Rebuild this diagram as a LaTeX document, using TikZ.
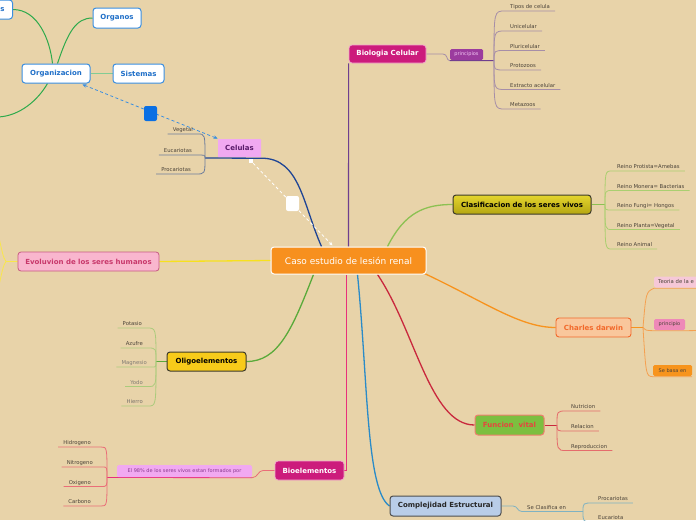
\documentclass[tikz,border=0pt]{standalone}
\usepackage{fontspec}
\setmainfont{DejaVu Sans}
\usetikzlibrary{arrows.meta,calc,backgrounds}
\definecolor{bgc}{HTML}{E8D3A9}
\definecolor{corange}{HTML}{F7901E}
\definecolor{magen}{HTML}{CC1B7C}
\definecolor{magbd}{HTML}{F2A6CC}
\definecolor{purp}{HTML}{9B3C9E}
\definecolor{purptxt}{HTML}{F3C6F3}
\definecolor{clasTop}{HTML}{E4D52E}
\definecolor{clasBot}{HTML}{B5A612}
\definecolor{darkbd}{HTML}{3C3A2A}
\definecolor{chfill}{HTML}{F9C79C}
\definecolor{chbd}{HTML}{F2692B}
\definecolor{teofill}{HTML}{F6C8D8}
\definecolor{prinfill}{HTML}{EE88B8}
\definecolor{sebasa}{HTML}{F7941D}
\definecolor{fvfill}{HTML}{7CBF40}
\definecolor{fvbd}{HTML}{EF7F6E}
\definecolor{fvtxt}{HTML}{E5463E}
\definecolor{cxfill}{HTML}{B9CDE8}
\definecolor{cxbd}{HTML}{4E4E4E}
\definecolor{elfill}{HTML}{F1A9F1}
\definecolor{eltxt}{HTML}{8A3A90}
\definecolor{olfill}{HTML}{F7CB1A}
\definecolor{evfill}{HTML}{F9B6CE}
\definecolor{evbd}{HTML}{C75A82}
\definecolor{evtxt}{HTML}{C8386B}
\definecolor{celtxt}{HTML}{5A1A6A}
\definecolor{orgbd}{HTML}{3A8EE0}
\definecolor{orgtxt}{HTML}{1F6FC8}
\definecolor{bsq}{HTML}{0A6FE3}
\definecolor{leaftxt}{HTML}{4A4238}
\definecolor{kBio}{HTML}{6E3F8E}
\definecolor{kCel}{HTML}{1F4595}
\definecolor{kClas}{HTML}{8CC152}
\definecolor{kCh}{HTML}{F7931E}
\definecolor{kFv}{HTML}{C9283D}
\definecolor{kCx}{HTML}{2A8BC8}
\definecolor{kBe}{HTML}{E8307A}
\definecolor{kOl}{HTML}{5AAA3A}
\definecolor{kEv}{HTML}{F7E11E}
\definecolor{kOrg}{HTML}{2EAA4C}
\definecolor{bP}{HTML}{A68EA8}
\definecolor{bG}{HTML}{AACF70}
\definecolor{bR}{HTML}{E56C6C}
\definecolor{bT}{HTML}{7FB2C2}
\definecolor{bB}{HTML}{6C7C9C}
\definecolor{bO}{HTML}{ABCB7C}
\definecolor{bK}{HTML}{EA6E78}
\definecolor{bCh}{HTML}{F5A050}
\begin{document}
\begin{tikzpicture}[x=1pt,y=-1pt,
  box/.style={rectangle, rounded corners=3pt, line width=0.8pt, inner sep=0pt, font=\fontsize{7}{8}\selectfont\bfseries},
  mini/.style={rectangle, rounded corners=1.5pt, inner sep=0pt, font=\fontsize{5}{6}\selectfont},
  leafR/.style={anchor=south west, inner xsep=5pt, inner ysep=1.5pt, text depth=0.8pt, text height=4pt, font=\fontsize{5.3}{6}\selectfont, text=leaftxt},
  leafL/.style={leafR, anchor=south east},
  mainc/.style={line width=1.3pt},
  brn/.style={line width=0.8pt},
  dsh/.style={line width=0.8pt, dash pattern=on 3pt off 2.5pt},
  orgbox/.style={box, fill=white, draw=orgbd, line width=1pt, text=orgtxt},
  sq/.style={rectangle, rounded corners=2pt, minimum width=13pt, minimum height=15pt, inner sep=0pt}
]
\useasboundingbox (0,0) rectangle (696,520);
\clip (0,0) rectangle (696,520);
% ---------- nodes ----------
\node[box, fill=corange, draw=white, line width=1pt, text=white, minimum width=155pt, minimum height=27pt, font=\fontsize{9}{10}\selectfont] (c) at (348.5,260.5) {Caso estudio de lesión renal};
\node[box, fill=magen, draw=magbd, text=white, minimum width=77pt, minimum height=18pt] (bio) at (387.5,54) {Biologia Celular};
\node[mini, fill=purp, text=purptxt, minimum width=33pt, minimum height=11pt] (pri) at (466.5,54.5) {principios};
\node[box, top color=clasTop, bottom color=clasBot, draw=darkbd, line width=1pt, text=black, minimum width=138pt, minimum height=19pt] (clas) at (522,204.5) {Clasificacion de los seres vivos};
\node[box, fill=chfill, draw=chbd, line width=0.9pt, text=chbd, minimum width=75pt, minimum height=19pt] (ch) at (593.5,327.5) {Charles darwin};
\node[mini, fill=teofill, text=leaftxt, anchor=west, minimum height=11pt, text width=60pt, inner xsep=4pt, align=left, font=\fontsize{5.3}{6}\selectfont] (teo) at (654,282) {Teoria de la e};
\node[mini, fill=prinfill, text=leaftxt, minimum width=31pt, minimum height=11pt] (prin) at (669.5,324.5) {principio};
\node[mini, fill=sebasa, text=leaftxt, minimum width=39pt, minimum height=11pt] (seb) at (672.5,370.5) {Se basa en};
\node[box, fill=fvfill, draw=fvbd, line width=1pt, text=fvtxt, minimum width=69pt, minimum height=20pt] (fv) at (509.5,425) {Funcion\ \ vital};
\node[box, fill=cxfill, draw=cxbd, line width=1pt, text=black!85, minimum width=111pt, minimum height=20pt] (cx) at (445.5,506) {Complejidad Estructural};
\node[box, fill=magen, draw=magbd, text=white, minimum width=69pt, minimum height=19pt] (be) at (309.5,470.5) {Bioelementos};
\node[mini, fill=elfill, text=eltxt, minimum width=135pt, minimum height=12pt] (el) at (184.5,471) {El 98\% de los seres vivos estan formados por};
\node[box, fill=olfill, draw=darkbd, line width=1pt, text=black, minimum width=79pt, minimum height=19pt] (ol) at (206.5,361.5) {Oligoelementos};
\node[box, fill=evfill, draw=evbd, text=evtxt, minimum width=141pt, minimum height=19pt] (ev) at (88.5,261.5) {Evoluvion de los seres humanos};
\node[box, rounded corners=0.5pt, fill=elfill, text=celtxt, minimum width=43pt, minimum height=18pt] (cel) at (239.5,148) {Celulas};
\node[orgbox, minimum width=68pt, minimum height=19pt] (org) at (56,73.5) {Organizacion};
\node[orgbox, minimum width=48pt, minimum height=20pt] (organos) at (117,18) {Organos};
\node[orgbox, minimum width=51pt, minimum height=19pt] (sis) at (138.5,73.5) {Sistemas};
\node[orgbox, anchor=east, minimum height=19pt, text width=38pt, inner xsep=8pt, align=right] (tej) at (13,9.5) {s};
\node[sq, fill=bsq] (bq) at (150.5,113.5) {};
\node[sq, fill=white] (wq) at (292.5,203.5) {};
\node[rectangle, fill=white, minimum size=4pt, inner sep=0pt] (ws) at (251,161) {};
% leaves: principios
\node[leafR] (p1) at (505,11) {Tipos de celula};
\node[leafR] (p2) at (505,31) {Unicelular};
\node[leafR] (p3) at (505,50.5) {Pluricelular};
\node[leafR] (p4) at (505,70) {Protozoos};
\node[leafR] (p5) at (505,89.5) {Extracto acelular};
\node[leafR] (p6) at (505,109) {Metazoos};
% leaves: clasificacion
\node[leafR] (r1) at (612,171) {Reino Protista=Amebas};
\node[leafR] (r2) at (612,190.5) {Reino Monera= Bacterias};
\node[leafR] (r3) at (612,210) {Reino Fungi= Hongos};
\node[leafR] (r4) at (612,229.5) {Reino Planta=Vegetal};
\node[leafR] (r5) at (612,249) {Reino Animal};
% leaves: funcion vital
\node[leafR] (f1) at (566,411) {Nutricion};
\node[leafR] (f2) at (566,431) {Relacion};
\node[leafR] (f3) at (566,450.5) {Reproduccion};
% complejidad
\node[leafR] (se) at (522,511.5) {Se Clasifica en};
\node[leafR] (x1) at (593,503) {Procariotas};
\node[leafR] (x2) at (593,522) {Eucariota};
% celulas leaves
\node[leafL] (c1) at (198,134) {Vegetal};
\node[leafL] (c2) at (197,155) {Eucariotas};
\node[leafL] (c3) at (196,174) {Procariotas};
% oligo leaves
\node[leafL] (o1) at (147,328) {Potasio};
\node[leafL] (o2) at (148,348) {Azufre};
\node[leafL, text=leaftxt!70] (o3) at (152,367) {Magnesio};
\node[leafL, text=leaftxt!70] (o4) at (148,386.5) {Yodo};
\node[leafL, text=leaftxt!75] (o5) at (148,406) {Hierro};
% bioelementos leaves
\node[leafL] (h1) at (96,447) {Hidrogeno};
\node[leafL] (h2) at (98,467) {Nitrogeno};
\node[leafL] (h3) at (96,486.5) {Oxigeno};
\node[leafL] (h4) at (96,506) {Carbono};
% junctions and free ends
\coordinate (J1) at (494,60.5);
\coordinate (J2) at (605,204.5);
\coordinate (J3) at (643,327.5);
\coordinate (J4) at (557,425);
\coordinate (J5) at (583,511.5);
\coordinate (J6) at (107,477.5);
\coordinate (J7) at (156,361.5);
\coordinate (J8) at (205,158);
\coordinate (ej) at (6,261.5);
\coordinate (eu) at (-1,238);
\coordinate (ed) at (-1,285);
\coordinate (ob) at (-2,117);
\coordinate (pr2) at (700,330.5);
% ---------- connectors ----------
\begin{scope}[on background layer]
\clip (0,0) rectangle (696,520);
\fill[bgc] (0,0) rectangle (696,520);
% main branches
\draw[mainc,kBio,line width=1.1pt] (c.north) -- (bio.south west);
\draw[mainc,kCel] ($(c.north west)+(51,0)$) .. controls (303,205) and (300,158) .. ($(cel.south east)+(0,0.8)$) -- (J8);
\draw[mainc,kClas] ($(c.north west)+(117,0)$) .. controls (405,212) and (425,204.5) .. (clas.west);
\draw[mainc,kCh] ($(c.south east)+(-2,-1)$) .. controls (485,302) and (520,327.5) .. (ch.west);
\draw[mainc,kFv] ($(c.south west)+(107,0)$) .. controls (415,330) and (430,425) .. (fv.west);
\draw[mainc,kCx] ($(c.south west)+(87,0)$) .. controls (368,380) and (366,490) .. (cx.west);
\draw[mainc,kBe] ($(c.south west)+(76,0)$) |- (be.east);
\draw[mainc,kOl] ($(c.south west)+(43,0)$) .. controls (292,330) and (278,361.5) .. (ol.east);
\draw[mainc,kEv] (c.west) -- (ev.east);
\draw[brn,kEv!80!white] (ev.west) -- (ej) .. controls (3,258) and (2,250) .. (eu);
\draw[brn,kEv!80!white] (ej) .. controls (3,265) and (2,273) .. (ed);
% biologia celular
\draw[brn,bP] (bio.east) -- (443,54) .. controls (448,54) and (446,60.5) .. ($(pri.south west)+(0,0.5)$);
\draw[brn,kBio,line width=1pt] ($(pri.south west)+(0,0.5)$) -- (J1);
\foreach \n in {p1,p2,p3,p4,p5,p6}{
  \draw[brn,bP] (J1) .. controls (J1 |- \n.south west) .. (\n.south west) -- (\n.south east);
}
% clasificacion
\draw[brn,kClas] (clas.east) -- (J2);
\foreach \n in {r1,r2,r3,r4,r5}{
  \draw[brn,bG] (J2) .. controls (J2 |- \n.south west) .. (\n.south west) -- (\n.south east);
}
% charles darwin
\draw[brn,kCh] (ch.east) -- (J3);
\draw[brn,bCh] (J3) .. controls (646,292) .. ($(teo.south west)+(0,0.5)$) -- ($(teo.south east)+(0,0.5)$);
\draw[brn,bCh] (J3) .. controls (646,330.5) .. ($(prin.south west)+(0,0.5)$) -- ($(prin.south east)+(0,0.5)$) -- (pr2);
\draw[brn,bCh] (J3) .. controls (646,376) .. ($(seb.south west)+(0,0.5)$) -- ($(seb.south east)+(0,0.5)$);
% funcion vital
\draw[brn,kFv] (fv.east) -- (J4);
\foreach \n in {f1,f2,f3}{
  \draw[brn,bR] (J4) .. controls (J4 |- \n.south west) .. (\n.south west) -- (\n.south east);
}
% complejidad
\draw[brn,bT] (cx.east) -- (513,506) .. controls (518,506) and (517,511.5) .. (se.south west) -- (se.south east) -- (J5);
\foreach \n in {x1,x2}{
  \draw[brn,bT] (J5) .. controls (J5 |- \n.south west) .. (\n.south west) -- (\n.south east);
}
% celulas
\foreach \n in {c1,c2,c3}{
  \draw[brn,bB] (J8) .. controls (J8 |- \n.south east) .. (\n.south east) -- (\n.south west);
}
% oligoelementos
\draw[brn,kOl] (ol.west) -- (J7);
\foreach \n in {o1,o2,o3,o4,o5}{
  \draw[brn,bO] (J7) .. controls (J7 |- \n.south east) .. (\n.south east) -- (\n.south west);
}
% bioelementos
\draw[brn,bK] (be.west) -- (263,470.5) .. controls (258,470.5) and (258,477.5) .. ($(el.south east)+(0,0.5)$);
\draw[brn,kBe] ($(el.south east)+(0,0.5)$) -- (J6);
\foreach \n in {h1,h2,h3,h4}{
  \draw[brn,bK] (J6) .. controls (J6 |- \n.south east) .. ($(\n.south east)+(5,0)$) -- (\n.south west);
}
% organizacion
\draw[brn,kOrg,line width=1pt] (tej.east) .. controls (38,9.5) and (50,40) .. ($(org.north west)+(31,0)$);
\draw[brn,kOrg,line width=1pt] ($(org.north west)+(36,0)$) .. controls (68,32) and (76,18) .. (organos.west);
\draw[brn,kOrg!60!white,line width=1pt] (org.east) -- (sis.west);
\draw[brn,kOrg,line width=1pt] ($(org.south west)+(26,0)$) .. controls (38,100) and (20,116) .. (ob);
% dashed relations
\draw[dsh,orgbd,{Stealth[length=4pt,width=3.5pt]}-{Stealth[length=4pt,width=3.5pt]}] ($(org.south east)+(-8,1)$) -- (cel.north west);
\draw[dsh,white,-{Stealth[length=4pt,width=3.5pt]}] (ws) -- ($(c.north west)+(62,-1)$);
\end{scope}
\end{tikzpicture}
\end{document}
